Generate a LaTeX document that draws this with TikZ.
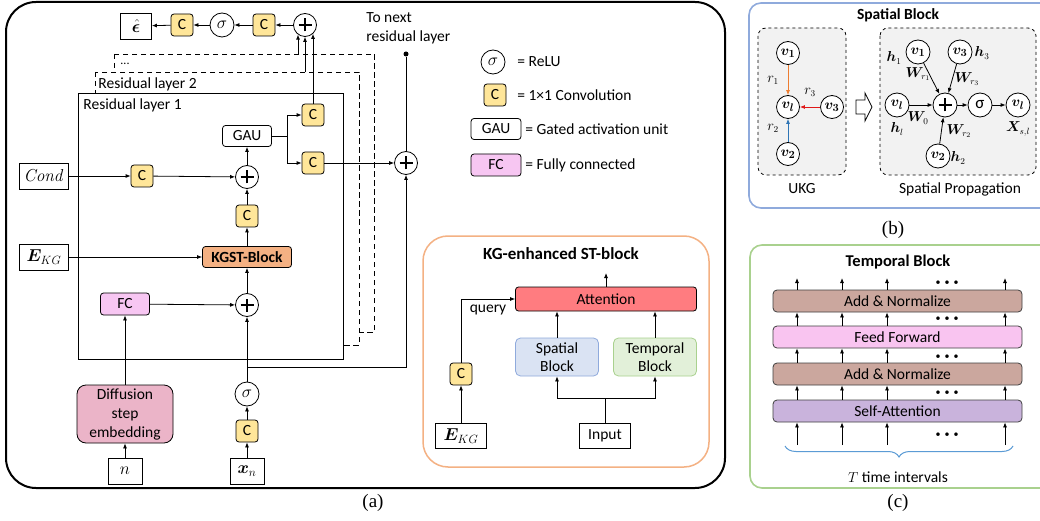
\documentclass[tikz,border=0pt]{standalone}
\usepackage[no-math]{fontspec}
\setmainfont{Carlito}
\newfontfamily\capfont{Liberation Serif}
\usepackage{amsmath}
\usepackage{bm}
\usetikzlibrary{positioning,arrows.meta,decorations.pathreplacing}
\tikzset{>={Latex[length=5pt,width=4pt]}}
\definecolor{convyellow}{HTML}{FFE699}
\definecolor{kgstorange}{HTML}{F4B183}
\definecolor{fcpink}{HTML}{F7C6F2}
\definecolor{embpink}{HTML}{EBB4C8}
\definecolor{attred}{HTML}{FF7C80}
\definecolor{spfill}{HTML}{DAE3F3}
\definecolor{spdraw}{HTML}{8FAADC}
\definecolor{tpfill}{HTML}{E2F0D9}
\definecolor{tpdraw}{HTML}{A9D18E}
\definecolor{addnorm}{HTML}{CBA79E}
\definecolor{ffpink}{HTML}{F9C4F0}
\definecolor{sapurple}{HTML}{C9B3DC}
\definecolor{edgeorange}{HTML}{ED7D31}
\definecolor{edgered}{HTML}{E01818}
\definecolor{edgeblue}{HTML}{2E75B6}
\definecolor{bracecol}{HTML}{5B9BD5}

\begin{document}
\begin{tikzpicture}[x=1pt,y=-1pt,line width=0.8pt,
  every node/.style={font=\fontsize{15.5}{19}\selectfont, inner sep=0pt},
  conv/.style={draw, rounded corners=3pt, fill=convyellow, minimum width=22pt, minimum height=22pt},
  plus/.style={draw, circle, fill=white, minimum size=23pt,
    path picture={\draw[line width=1.2pt]
      ([xshift=-6.5pt]path picture bounding box.center) -- ([xshift=6.5pt]path picture bounding box.center)
      ([yshift=-6.5pt]path picture bounding box.center) -- ([yshift=6.5pt]path picture bounding box.center);}},
  relu/.style={draw, circle, fill=white, minimum size=24pt, font=\fontsize{17}{17}\selectfont},
  inbox/.style={draw, fill=white, minimum height=26pt, font=\fontsize{17}{17}\selectfont},
  gaubox/.style={draw, rounded corners=3pt, fill=white, minimum height=21pt},
  fcbox/.style={draw, rounded corners=3pt, fill=fcpink, minimum height=22pt},
  layerdash/.style={dash pattern=on 5.5pt off 3.5pt, fill=white},
  blockbox/.style={draw, rounded corners=5pt, minimum width=83pt, minimum height=38pt, align=center, font=\fontsize{15.5}{17.5}\selectfont},
  gnode/.style={draw, circle, fill=white, minimum size=23pt, font=\fontsize{15}{15}\selectfont\boldmath},
  glabel/.style={font=\fontsize{13.5}{13.5}\selectfont},
  title/.style={font=\fontsize{16.5}{18}\selectfont\bfseries},
  bar/.style={draw=black!75, rounded corners=4pt, minimum width=249pt, minimum height=22pt},
  caption/.style={font=\capfont\fontsize{19}{19}\selectfont}
]
\useasboundingbox (0,0) rectangle (1040,521);
\fill[white] (0,0) rectangle (1040,521);

% (a) whole network
\draw[line width=2pt, rounded corners=30pt] (6,2) rectangle (725,488);
\node[caption] (capa) at (373,503) {(a)};

% stacked residual layers
\draw[layerdash] (114,54) rectangle (374,332);
\node[font=\fontsize{12}{12}\selectfont] (dots3) at (125,64) {...};
\draw[layerdash] (95,72) rectangle (359,345);
\node[anchor=west] (lay2) at (98,84) {Residual layer 2};
\draw[fill=white] (78,93) rectangle (343,359);
\node[anchor=west] (lay1) at (83,105) {Residual layer 1};

% output head
\node[inbox, minimum width=31pt] (epshat) at (136,26) {$\hat{\bm{\epsilon}}$};
\node[conv] (cout2) at (182,25) {C};
\node[relu] (sout) at (222,25) {$\sigma$};
\node[conv] (cout1) at (264,25) {C};
\node[plus] (pskip) at (305,25) {};
\draw[->] (pskip) -- (cout1);
\draw[->] (cout1) -- (sout);
\draw[->] (sout) -- (cout2);
\draw[->] (cout2) -- (epshat);

\coordinate (out3) at (298,54);
\coordinate (out2) at (305,72);
\draw[->] (out3) -- (out3 |- pskip.-126);
\draw[->] (out2) -- (pskip.south);

% inside residual layer 1
\node[gaubox, minimum width=49pt] (gau) at (247,136) {GAU};
\node[conv] (cskip) at (313,115) {C};
\node[conv] (cres) at (313,163) {C};
\coordinate (gsplit) at (287,136);
\draw (gau.east) -- (gsplit);
\draw[->] (gsplit) |- (cskip);
\draw[->] (gsplit) |- (cres);
\draw[->] (cskip.north) -- (cskip.north |- pskip.-48);

\node[plus] (pcond) at (247,177) {};
\node[conv] (ccond) at (142,176) {C};
\node[inbox, minimum width=49pt] (cond) at (44,176) {$\mathit{Cond}$};
\draw[->] (cond) -- (ccond);
\draw[->] (ccond) -- (pcond);
\draw[->] (pcond) -- (gau);

\node[conv] (cmid) at (247,216) {C};
\node[draw, rounded corners=3pt, fill=kgstorange, minimum width=89pt, minimum height=21pt, font=\fontsize{15.5}{17}\selectfont\bfseries] (kgst) at (247,257) {KGST-Block};
\node[inbox, minimum width=49pt] (ekg) at (44,257) {$\bm{E}_{KG}$};
\draw[->] (kgst) -- (cmid);
\draw[->] (cmid) -- (pcond);
\draw[->] (ekg) -- (kgst);

\node[plus] (pdiff) at (247,305) {};
\node[fcbox, minimum width=49pt] (fc) at (125,304) {FC};
\draw[->] (pdiff) -- (kgst);
\draw[->] (fc) -- (pdiff);

% inputs
\node[draw, rounded corners=9pt, fill=embpink, minimum width=96pt, minimum height=58pt, align=center, font=\fontsize{15.5}{19}\selectfont] (demb) at (125,414) {Diffusion\\step\\embedding};
\node[inbox, minimum width=34pt] (nin) at (125,471) {$n$};
\node[inbox, minimum width=34pt] (xin) at (247,471) {$\bm{x}_n$};
\node[conv] (cin) at (247,431) {C};
\node[relu] (sin) at (247,394) {$\sigma$};
\draw[->] (nin) -- (demb);
\draw[->] (demb) -- (fc);
\draw[->] (xin) -- (cin);
\draw[->] (cin) -- (sin);
\draw[->] (sin) -- (pdiff);

% residual connection
\node[plus] (pres) at (406,163) {};
\node[circle, fill, minimum size=5pt] (nextdot) at (406,54) {};
\node[anchor=west, align=left] (nexttxt) at (366,28) {To next\\residual layer};
\coordinate (resbr) at (247,367);
\draw[->] (resbr) -| (pres);
\draw[->] (cres) -- (pres);
\draw (pres) -- (nextdot);

% legend
\node[relu] (lgrelu) at (493,62) {$\sigma$};
\node[anchor=west] (lgrelut) at (517,62) {= ReLU};
\node[conv] (lgconv) at (495,95) {C};
\node[anchor=west] (lgconvt) at (517,95) {= 1×1 Convolution};
\node[gaubox, minimum width=50pt] (lggau) at (496,129) {GAU};
\node[anchor=west] (lggaut) at (525,129) {= Gated activation unit};
\node[fcbox, minimum width=50pt] (lgfc) at (496,165) {FC};
\node[anchor=west] (lgfct) at (525,165) {= Fully connected};

% KG-enhanced ST-block
\draw[draw=kgstorange, line width=1.5pt, rounded corners=25pt] (423,236) rectangle (709,467);
\node[title, font=\fontsize{17}{18}\selectfont\bfseries] (kgtitle) at (561,254) {KG-enhanced ST-block};
\node[draw, rounded corners=3pt, fill=attred, minimum width=181pt, minimum height=24pt] (att) at (606,299) {Attention};
\node[blockbox, fill=spfill, draw=spdraw] (spat) at (557,357) {Spatial\\Block};
\node[blockbox, fill=tpfill, draw=tpdraw] (temp) at (655,357) {Temporal\\Block};
\node[inbox, minimum width=51pt, minimum height=25pt, font=\fontsize{15.5}{17}\selectfont] (input) at (605,436) {Input};
\node[inbox, minimum width=51pt, minimum height=25pt] (ekgb) at (461,436) {$\bm{E}_{KG}$};
\node[conv] (ckg) at (461,374) {C};
\coordinate (attout) at (606,273);
\coordinate (insplit) at (605,398);
\draw[->] (att) -- (attout);
\draw (input) -- (insplit);
\draw[->] (insplit) -| (spat);
\draw[->] (insplit) -| (temp);
\draw[->] (spat) -- (spat |- att.south);
\draw[->] (temp) -- (temp |- att.south);
\draw[->] (ekgb) -- (ckg);
\draw[->] (ckg) |- (att.west);
\node (query) at (488,310) {query};

% (b) spatial block
\draw[draw=spdraw, line width=1.6pt, rounded corners=12pt] (749,3) rectangle (1060,208);
\node[title, font=\fontsize{15.5}{18}\selectfont\bfseries] (sptitle) at (898,15) {Spatial Block};
\draw[dashed, fill=gray!10, rounded corners=8pt] (758,28) rectangle (846,175);
\draw[dashed, fill=gray!10, rounded corners=8pt] (880,28) rectangle (1036,175);
\node (ukg) at (802,189) {UKG};
\node (spprop) at (960,189) {Spatial Propagation};
\node[caption] (capb) at (893,230) {(b)};

\node[gnode] (uv1) at (788,53) {$v_1$};
\node[gnode] (uvl) at (788,107) {$v_l$};
\node[gnode] (uv3) at (832,107) {$v_3$};
\node[gnode] (uv2) at (788,154) {$v_2$};
\draw[->, edgeorange] (uv1) -- (uvl);
\draw[->, edgered] (uv3) -- (uvl);
\draw[->, edgeblue] (uv2) -- (uvl);
\node[glabel] (r1) at (773,80) {$r_1$};
\node[glabel] (r3) at (810,92) {$r_3$};
\node[glabel] (r2) at (773,128) {$r_2$};

\draw[fill=white] (856,100) -- (865,100) -- (865,93) -- (872,107) -- (865,121) -- (865,114) -- (856,114) -- cycle;

\node[gnode, minimum size=24pt] (pv1) at (918,52) {$v_1$};
\node[gnode, minimum size=24pt] (pv3) at (960,52) {$v_3$};
\node[gnode, minimum size=24pt] (pvl) at (897,105) {$v_l$};
\node[plus, minimum size=24pt] (pplus) at (945,105) {};
\node[gnode, minimum size=24pt, font=\fontsize{17}{17}\selectfont] (psig) at (980,105) {σ};
\node[gnode, minimum size=24pt] (pvout) at (1018,105) {$v_l$};
\node[gnode, minimum size=24pt] (pv2) at (938,156) {$v_2$};
\draw[->] (pv1) -- (pplus);
\draw[->] (pv3) -- (pplus);
\draw[->] (pvl) -- (pplus);
\draw[->] (pv2) -- (pplus);
\draw[->] (pplus) -- (psig);
\draw[->] (psig) -- (pvout);
\node[glabel] (h1) at (894,58) {$\bm{h}_1$};
\node[glabel] (h3) at (982,53) {$\bm{h}_3$};
\node[glabel] (h2) at (958,158) {$\bm{h}_2$};
\node[glabel] (hl) at (897,129) {$\bm{h}_l$};
\node[glabel] (wr1) at (918,74) {$\bm{W}_{r_1}$};
\node[glabel] (wr3) at (967,79) {$\bm{W}_{r_3}$};
\node[glabel] (wr2) at (959,131) {$\bm{W}_{r_2}$};
\node[glabel] (w0) at (918,118) {$\bm{W}_0$};
\node[glabel] (xsl) at (1018,129) {$\bm{X}_{s,l}$};

% (c) temporal block
\draw[draw=tpdraw, line width=1.6pt, rounded corners=12pt] (750,245) rectangle (1060,488);
\node[title] (tptitle) at (898,262) {Temporal Block};
\node[bar, fill=addnorm] (an2) at (897.5,301) {Add \& Normalize};
\node[bar, fill=ffpink] (ff) at (897.5,337) {Feed Forward};
\node[bar, fill=addnorm] (an1) at (897.5,374) {Add \& Normalize};
\node[bar, fill=sapurple] (sa) at (897.5,411) {Self-Attention};
\foreach \x in {797,842,887,1005}{
  \coordinate (col) at (\x,0);
  \draw[->] (col |- 0,445) -- (col |- sa.south);
  \draw[->] (col |- sa.north) -- (col |- an1.south);
  \draw[->] (col |- an1.north) -- (col |- ff.south);
  \draw[->] (col |- ff.north) -- (col |- an2.south);
  \draw[->] (col |- an2.north) -- (col |- 0,278);
}
\foreach \y in {283,319,357,393,435}
  \node[font=\fontsize{10}{10}\selectfont] at (947,\y) {\textbullet\hspace{4pt}\textbullet\hspace{4pt}\textbullet};
\draw[draw=bracecol, line width=1pt, decorate, decoration={brace, amplitude=11pt, mirror}] (785,446) -- (1013,446);
\node (tint) at (898,477) {$T$ time intervals};
\node[caption] (capc) at (898,503) {(c)};
\end{tikzpicture}
\end{document}
